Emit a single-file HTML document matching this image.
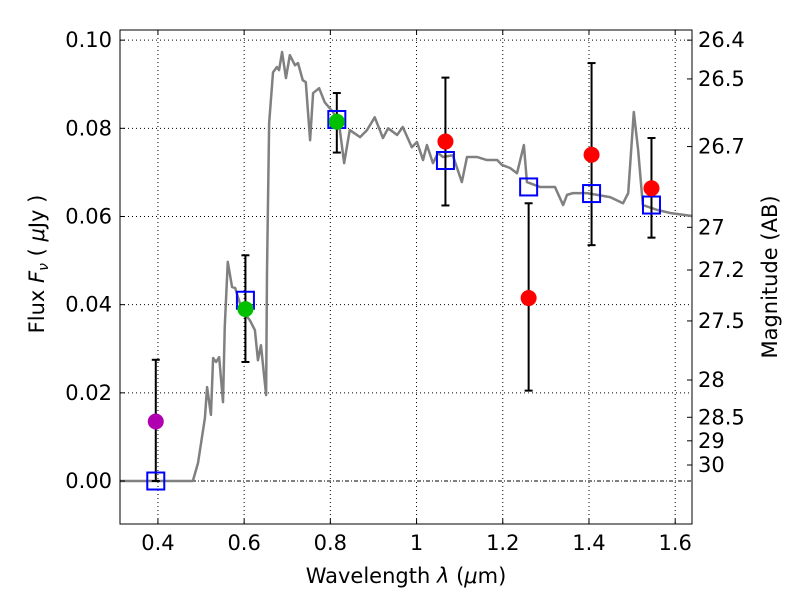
<!DOCTYPE html>
<html><head><meta charset="utf-8"><style>
body{margin:0;background:#fff;font-family:"Liberation Sans","DejaVu Sans",sans-serif}
svg text{font-family:"DejaVu Sans","Liberation Sans",sans-serif;font-size:21px;fill:#000}
</style></head><body>
<svg id="chart" width="800" height="600" xmlns="http://www.w3.org/2000/svg">
<rect width="800" height="600" fill="#fff"/>
<g id="grid"></g>
<g id="spec"></g>
<g id="marks"></g>
<rect x="120" y="30" width="572" height="494" fill="none" stroke="#000" stroke-width="1"/>
<g id="axes"></g>
<text x="406" y="583" text-anchor="middle">Wavelength  <tspan font-style="italic">λ</tspan> (<tspan font-style="italic">μ</tspan>m)</text>
<text transform="translate(44,264) rotate(-90)" text-anchor="middle">Flux  <tspan font-style="italic">F</tspan><tspan font-style="italic" font-size="14" dy="4">ν</tspan><tspan dy="-4">  ( </tspan><tspan font-style="italic">μ</tspan>Jy )</text>
<text transform="translate(777,277) rotate(-90)" text-anchor="middle">Magnitude (AB)</text>
</svg>
<script>
const specX=[0.312,0.481,0.493,0.509,0.514,0.523,0.528,0.535,0.542,0.551,0.555,0.562,0.572,0.579,0.595,0.613,0.625,0.632,0.639,0.651,0.653,0.658,0.667,0.676,0.681,0.688,0.697,0.706,0.718,0.725,0.736,0.743,0.753,0.760,0.774,0.787,0.806,0.820,0.832,0.845,0.869,0.885,0.903,0.922,0.934,0.955,0.968,0.989,1.001,1.015,1.024,1.038,1.050,1.061,1.084,1.105,1.117,1.140,1.163,1.187,1.198,1.217,1.233,1.249,1.256,1.286,1.321,1.340,1.349,1.363,1.395,1.419,1.449,1.479,1.491,1.504,1.514,1.525,1.558,1.588,1.639];
const specY=[0,0,0.0041,0.0143,0.0213,0.0150,0.0279,0.0270,0.0281,0.0179,0.0349,0.0497,0.0440,0.0438,0.0388,0.0365,0.0342,0.0274,0.0308,0.0195,0.0472,0.0812,0.0927,0.0939,0.0932,0.0973,0.0914,0.0966,0.0943,0.0948,0.0909,0.0905,0.0773,0.0880,0.0891,0.0859,0.0837,0.0812,0.0721,0.0796,0.0780,0.0796,0.0825,0.0778,0.0800,0.0785,0.0803,0.0757,0.0769,0.0728,0.0762,0.0721,0.0744,0.0735,0.0739,0.0678,0.0735,0.0735,0.0728,0.0728,0.0717,0.0710,0.0698,0.0762,0.0678,0.0667,0.0667,0.0626,0.0649,0.0653,0.0653,0.0649,0.0644,0.0630,0.0653,0.0837,0.0751,0.0626,0.0615,0.0608,0.0601];
const ptX=[0.395,0.603,0.815,1.067,1.260,1.406,1.545];
const ptY=[0.0135,0.039,0.0815,0.077,0.0415,0.074,0.0664];
const errLo=[0.0,0.027,0.0745,0.0625,0.0205,0.0535,0.0552];
const errHi=[0.0275,0.0512,0.088,0.0915,0.063,0.0948,0.0778];
const ptColor=['#b000b0','#00c000','#00c000','#ff0000','#ff0000','#ff0000','#ff0000'];
const modelY=[0.0,0.041,0.082,0.0727,0.0667,0.0652,0.0626];
const xTicks=[0.4,0.6,0.8,1.0,1.2,1.4,1.6];
const xTickLabels=['0.4','0.6','0.8','1','1.2','1.4','1.6'];
const yTicks=[0,0.02,0.04,0.06,0.08,0.10];
const yTickLabels=['0.00','0.02','0.04','0.06','0.08','0.10'];
const magTicks=[26.4,26.5,26.7,27,27.2,27.5,28,28.5,29,30];
const magLabels=['26.4','26.5','26.7','27','27.2','27.5','28','28.5','29','30'];

const L=120,R=692,T=30,B=524,x0=0.312,x1=1.639,y0=-0.00975,y1=0.1023;
const sx=v=>L+(v-x0)/(x1-x0)*(R-L);
const sy=v=>B-(v-y0)/(y1-y0)*(B-T);
const NS='http://www.w3.org/2000/svg';
function mk(tag,attrs,parent){const e=document.createElementNS(NS,tag);for(const k in attrs)e.setAttribute(k,attrs[k]);parent.appendChild(e);return e;}
const grid=document.getElementById('grid'),axes=document.getElementById('axes'),spec=document.getElementById('spec'),marks=document.getElementById('marks');
xTicks.forEach((v,i)=>{
  const g=mk('line',{x1:sx(v),x2:sx(v),y1:T,y2:B,stroke:'#000','stroke-width':1,'stroke-dasharray':'1,3'},grid);
  
  
  mk('line',{x1:sx(v),x2:sx(v),y1:B,y2:B-5,stroke:'#000'},axes);
  mk('line',{x1:sx(v),x2:sx(v),y1:T,y2:T+5,stroke:'#000'},axes);
  const t=mk('text',{x:sx(v),y:B+26,'text-anchor':'middle'},axes);t.textContent=xTickLabels[i];
  
  
});
yTicks.forEach((v,i)=>{
  const g=mk('line',{x1:L,x2:R,y1:sy(v),y2:sy(v),stroke:'#000','stroke-width':1,'stroke-dasharray':v===0?'4,2,1,2':'1,3'},grid);
  
  
  mk('line',{x1:L,x2:L+5,y1:sy(v),y2:sy(v),stroke:'#000'},axes);
  const t=mk('text',{x:L-8,y:sy(v)+7,'text-anchor':'end'},axes);t.textContent=yTickLabels[i];
  
  
});
magTicks.forEach((m,i)=>{
  const f=Math.pow(10,(23.9-m)/2.5);const y=sy(f);
  mk('line',{x1:R,x2:R-5,y1:y,y2:y,stroke:'#000'},axes);
  const t=mk('text',{x:R+6,y:y+7,'text-anchor':'start'},axes);t.textContent=magLabels[i];
  
  
});
const p=mk('polyline',{points:specX.map((x,i)=>sx(x)+','+sy(specY[i])).join(' '),fill:'none',stroke:'#808080','stroke-width':2.5,'stroke-linejoin':'round'},spec);


ptX.forEach((x,i)=>{
  const cx=sx(x);
  const e=mk('line',{x1:cx,x2:cx,y1:sy(errLo[i]),y2:sy(errHi[i]),stroke:'#000','stroke-width':2},marks);
  
  
  mk('line',{x1:cx-4,x2:cx+4,y1:sy(errLo[i]),y2:sy(errLo[i]),stroke:'#000','stroke-width':2},marks);
  mk('line',{x1:cx-4,x2:cx+4,y1:sy(errHi[i]),y2:sy(errHi[i]),stroke:'#000','stroke-width':2},marks);
  const s=mk('rect',{x:cx-8.5,y:sy(modelY[i])-8.5,width:17,height:17,fill:'none',stroke:'#0000ff','stroke-width':2},marks);
  
  
  const c=mk('circle',{cx:cx,cy:sy(ptY[i]),r:8,fill:ptColor[i]},marks);
  
  
});
</script>
</body></html>
